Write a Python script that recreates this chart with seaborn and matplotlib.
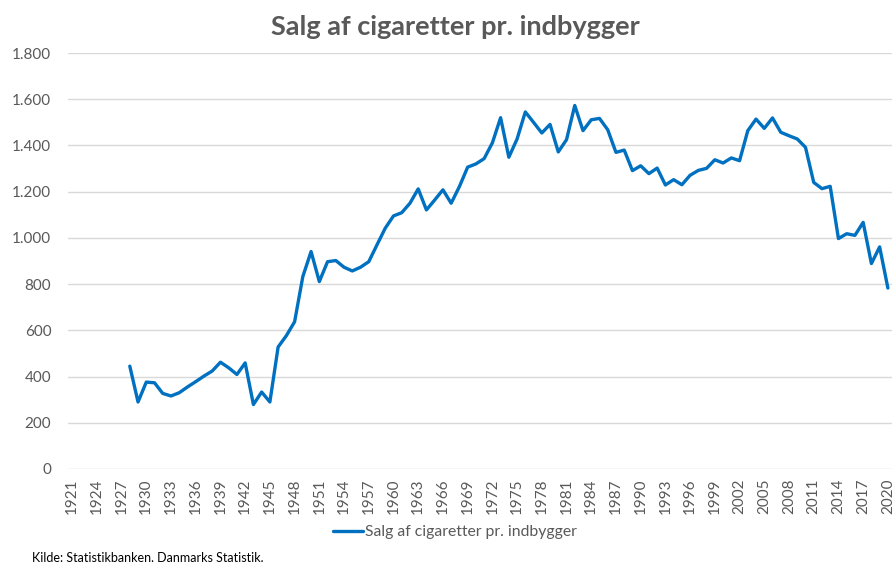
import matplotlib
matplotlib.use("Agg")
import matplotlib.pyplot as plt
import seaborn as sns
import pandas as pd
import numpy as np
from matplotlib.ticker import FuncFormatter
from matplotlib.lines import Line2D

years = list(range(1928, 2021))
values = [445, 290, 376, 373, 327, 316, 330, 355, 378, 402, 424, 462, 438, 409, 459, 279, 333, 290,
          528, 577, 637, 833, 941, 811, 897, 902, 873, 857, 873, 897, 970, 1042, 1095, 1109, 1150,
          1212, 1121, 1164, 1208, 1150, 1222, 1306, 1320, 1343, 1411, 1520, 1349, 1428, 1545, 1500,
          1454, 1491, 1372, 1425, 1573, 1464, 1511, 1517, 1468, 1370, 1380, 1291, 1312, 1278, 1302,
          1229, 1252, 1230, 1271, 1292, 1301, 1338, 1324, 1346, 1334, 1464, 1514, 1474, 1519, 1457,
          1442, 1428, 1392, 1240, 1213, 1223, 997, 1018, 1011, 1067, 889, 961, 783]
tick_years = list(range(1921, 2021, 3))
series_name = "Salg af cigaretter pr. indbygger"
title = "Salg af cigaretter pr. indbygger"
source = "Kilde: Statistikbanken, Danmarks Statistik."

df = pd.DataFrame({"År": years, "Værdi": values, "Serie": series_name})

sns.set_theme(style="white")
plt.rcParams["font.family"] = ["Lato", "DejaVu Sans"]
grey = "#595959"

fig = plt.figure(figsize=(8.94, 5.62), dpi=100)
ax = fig.add_axes([68/894, 93/562, 824/894, 416/562])

sns.lineplot(data=df, x="År", y="Værdi", hue="Serie", palette=["#0070C0"],
             linewidth=2.4, ax=ax, legend=False)

ax.set_xlim(1920.5, 2020.5)
ax.set_ylim(0, 1800)
ax.set_yticks(np.arange(0, 1801, 200))
ax.yaxis.set_major_formatter(FuncFormatter(lambda v, p: f"{int(v):,}".replace(",", ".")))
ax.set_xticks(tick_years)
ax.set_xticklabels([str(y) for y in tick_years], rotation=90)
ax.grid(axis="y", color="#D9D9D9", linewidth=1)
ax.grid(axis="x", visible=False)
for s in ax.spines.values():
    s.set_visible(False)
ax.tick_params(axis="y", length=0, pad=12, labelsize=11, labelcolor=grey)
ax.tick_params(axis="x", length=0, pad=7, labelsize=11, labelcolor=grey)
ax.set_xlabel("")
ax.set_ylabel("")

fig.text(455/894, 1 - 27/562, title, ha="center", va="center", fontsize=19.5,
         fontweight="bold", color=grey)

h = [Line2D([0], [0], color="#0070C0", linewidth=2.4)]
fig.legend(h, [series_name], loc="center", bbox_to_anchor=(455/894, 1 - 532/562),
           frameon=False, fontsize=11.3, labelcolor=grey, handlelength=1.9,
           handletextpad=0.15)

fig.text(32/894, 1 - 557/562, source, ha="left", va="center", fontsize=9, color="#000000")

fig.savefig("out.png", dpi=100)
